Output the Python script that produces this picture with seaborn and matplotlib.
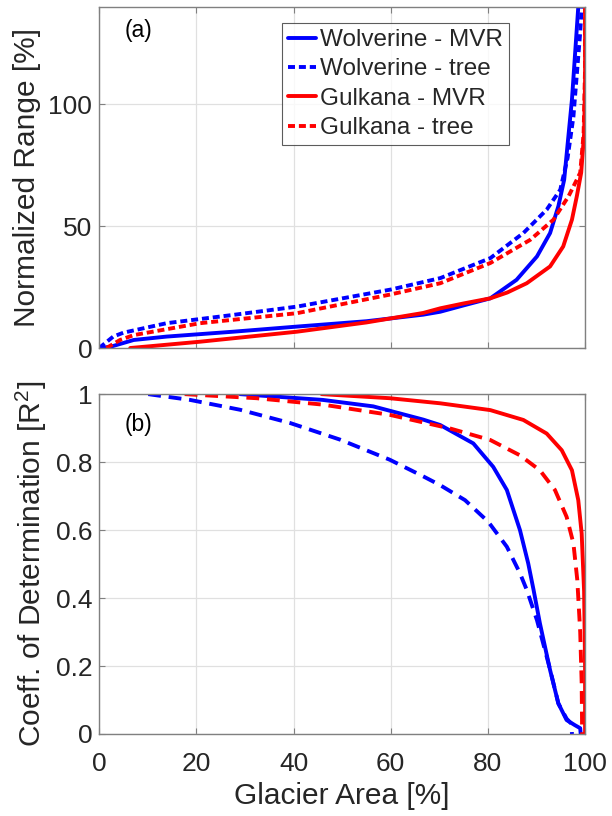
import numpy as np
import pandas as pd
import matplotlib
matplotlib.use("Agg")
import matplotlib.pyplot as plt
import seaborn as sns

# ---- (a) Normalized range vs glacier area ----
wolv_mvr_area = [0, 2.3, 7.1, 13.9, 27.6, 40.7, 55, 66.7, 70.2, 75, 80.5, 85.9,
                 90.1, 92.8, 94.5, 95.7, 97.3, 98.6]
wolv_mvr_range = [0, 0.5, 3.3, 4.7, 6.7, 8.8, 11, 13.7, 14.9, 17.5, 20.4, 28,
                  37.6, 47.2, 58.2, 69.1, 102, 140]

gulk_mvr_area = [6.4, 20.8, 40.7, 55, 66.7, 70.2, 75, 80.5, 84, 88, 92.8, 95.5,
                 97.3, 98.3, 99.2, 99.8, 100, 100]
gulk_mvr_range = [0, 2.6, 6.7, 10.5, 14.4, 16.3, 18.3, 20.4, 22.8, 26.6, 33.5,
                  41.7, 52.7, 62.3, 72, 88, 110, 140]

wolv_tree_area = [0, 2.9, 5, 13.9, 27.6, 40.7, 60, 70.2, 80.5, 87.3, 92.1, 94.9,
                  96.4, 97.6, 99, 99.3]
wolv_tree_range = [0, 4.7, 6.3, 10.2, 13.6, 17, 24, 28.7, 36.9, 47.2, 56.8, 65,
                   78, 95, 129.6, 140]

gulk_tree_area = [1.5, 4.3, 7.1, 20.8, 40.7, 60, 70.2, 80.5, 88.7, 93.5, 96.6,
                  98.3, 99, 99.7, 100, 100]
gulk_tree_range = [0, 3.3, 5.3, 10.2, 14.3, 22, 26.6, 34.9, 44.4, 52.7, 62.3,
                   69.1, 72, 88, 115, 140]

# ---- (b) Coefficient of determination vs glacier area ----
wolv_mvr_area_b = [29, 46, 56.4, 66.7, 70.2, 77, 81.1, 83.9, 86.6, 88.3, 89.4,
                   90.7, 92.8, 94.5, 96.2, 97.9, 99, 99.1]
wolv_mvr_r2 = [1.0, 0.983, 0.964, 0.925, 0.909, 0.855, 0.786, 0.718, 0.6, 0.502,
               0.424, 0.326, 0.188, 0.09, 0.041, 0.026, 0.017, 0.0]

wolv_tree_area_b = [10.1, 18.7, 29, 39.3, 49.6, 59.8, 66.7, 70.2, 75.3, 80.1,
                    83.9, 86.6, 88, 90.1, 92.8, 94.5, 96.2, 97.2, 97.3]
wolv_tree_r2 = [1.0, 0.983, 0.954, 0.915, 0.866, 0.807, 0.758, 0.732, 0.688,
                0.624, 0.551, 0.473, 0.424, 0.335, 0.19, 0.09, 0.045, 0.03, 0.0]

gulk_mvr_area_b = [45.8, 59.8, 70.2, 80.5, 87.3, 92.1, 95.2, 97.3, 98.6, 99.3,
                   99.8, 100, 100]
gulk_mvr_r2 = [1.0, 0.988, 0.973, 0.953, 0.924, 0.884, 0.835, 0.776, 0.688, 0.59,
               0.42, 0.2, 0.0]

gulk_tree_area_b = [17.6, 32.4, 46.1, 59.8, 72.2, 80.5, 86.6, 90.7, 93.8, 96.2,
                    97.6, 98.4, 99, 99.3, 99.4]
gulk_tree_r2 = [1.0, 0.988, 0.969, 0.939, 0.899, 0.865, 0.82, 0.776, 0.718,
                0.639, 0.561, 0.453, 0.3, 0.15, 0.0]

labels = ["Wolverine - MVR", "Wolverine - tree", "Gulkana - MVR", "Gulkana - tree"]
colors = ["#0000ff", "#0000ff", "#ff0000", "#ff0000"]
styles = ["solid", "dashed", "solid", "dashed"]

x_ticks = [0, 20, 40, 60, 80, 100]
range_ticks = [0, 50, 100]
r2_ticks = [0, 0.2, 0.4, 0.6, 0.8, 1.0]
r2_ticklabels = ["0", "0.2", "0.4", "0.6", "0.8", "1"]

sns.set_theme(style="white")
plt.rcParams["font.family"] = ["Liberation Sans", "DejaVu Sans"]
plt.rcParams["mathtext.fontset"] = "custom"
plt.rcParams["mathtext.rm"] = "Liberation Sans"

TEXT = "#262626"
EDGE = "#808080"
LW = 2.8

fig = plt.figure(figsize=(6.12, 8.16), dpi=100)
ax_a = fig.add_axes([0.162, 0.5735, 0.794, 0.4179])
ax_b = fig.add_axes([0.162, 0.1005, 0.794, 0.4165])


def draw(ax, xs, ys, dash_pat):
    for x, y, lab, col, st in zip(xs, ys, labels, colors, styles):
        df = pd.DataFrame({"x": x, "y": y})
        sns.lineplot(data=df, x="x", y="y", ax=ax, sort=False, estimator=None,
                     color=col, lw=LW, label=lab)
        line = ax.lines[-1]
        line.set_solid_joinstyle("round")
        line.set_dash_joinstyle("round")
        if st == "dashed":
            line.set_dashes(dash_pat)


draw(ax_a,
     [wolv_mvr_area, wolv_tree_area, gulk_mvr_area, gulk_tree_area],
     [wolv_mvr_range, wolv_tree_range, gulk_mvr_range, gulk_tree_range],
     (1.8, 1.0))
draw(ax_b,
     [wolv_mvr_area_b, wolv_tree_area_b, gulk_mvr_area_b, gulk_tree_area_b],
     [wolv_mvr_r2, wolv_tree_r2, gulk_mvr_r2, gulk_tree_r2],
     (3.3, 2.0))

for ax in (ax_a, ax_b):
    ax.set_xlim(0, 100)
    ax.set_xticks(x_ticks)
    ax.grid(True, color="#e0e0e0", lw=0.9)
    ax.set_axisbelow(True)
    for sp in ax.spines.values():
        sp.set_color(EDGE)
        sp.set_linewidth(1.0)
    ax.tick_params(direction="in", length=4, width=0.8, color=EDGE,
                   labelsize=19, labelcolor=TEXT, top=True, right=True,
                   bottom=True, left=True, pad=5)
    ax.tick_params(axis="x", pad=13)

ax_a.set_ylim(0, 140)
ax_a.set_yticks(range_ticks)
ax_a.set_xticklabels([])
ax_a.set_xlabel("")
ax_a.set_ylabel("Normalized Range [%]", fontsize=21.5, color=TEXT, labelpad=5)
ax_a.text(0.052, 0.93, "(a)", transform=ax_a.transAxes, fontsize=16.5,
          color="black", ha="left", va="center")

ax_b.set_ylim(0, 1)
ax_b.set_yticks(r2_ticks)
ax_b.set_yticklabels(r2_ticklabels)
ax_b.set_xticklabels([str(t) for t in x_ticks])
ax_b.set_xlabel("Glacier Area [%]", fontsize=21.5, color=TEXT, labelpad=4)
ax_b.set_ylabel("Coeff. of Determination [R$^2$]", fontsize=21.5, color=TEXT,
                labelpad=5)
ax_b.text(0.052, 0.91, "(b)", transform=ax_b.transAxes, fontsize=16.5,
          color="black", ha="left", va="center")

leg = ax_a.legend(loc="upper left", bbox_to_anchor=(0.377, 0.953),
                  fontsize=17.5, frameon=True, fancybox=False,
                  handlelength=1.15, handletextpad=0.15, borderpad=0.25,
                  labelspacing=0.3, borderaxespad=0)
leg.get_frame().set_edgecolor("#333333")
leg.get_frame().set_linewidth(0.8)
for h in leg.get_lines():
    h.set_linewidth(LW)
if ax_b.get_legend() is not None:
    ax_b.get_legend().remove()

fig.savefig("out.png", dpi=100)
